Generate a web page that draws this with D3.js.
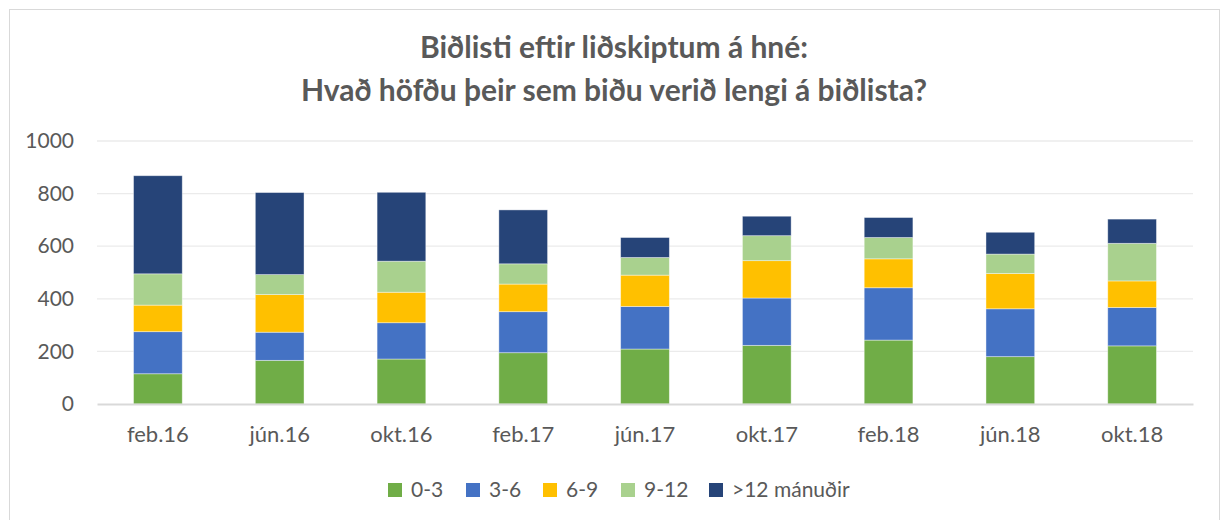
<!DOCTYPE html>
<html>
<head>
<meta charset="utf-8">
<script src="https://cdn.jsdelivr.net/npm/d3@7"></script>
<style>
  body { margin: 0; background: #fff; }
  text { font-family: Lato, "Open Sans", sans-serif; fill: #595959; }
</style>
</head>
<body>
<svg id="chart" width="1222" height="520"></svg>
<script>
// categories and series
var periods = ["feb.16", "jún.16", "okt.16", "feb.17", "jún.17", "okt.17", "feb.18", "jún.18", "okt.18"];
var seriesNames = ["0-3", "3-6", "6-9", "9-12", ">12 mánuðir"];
var m0_3   = [115, 166, 171, 195, 209, 223, 243, 180, 221];
var m3_6   = [160, 107, 138, 156, 162, 180, 199, 182, 146];
var m6_9   = [101, 143, 116, 105, 119, 142, 110, 134, 101];
var m9_12  = [119,  76, 118,  77,  67,  95,  81,  74, 143];
var m12    = [373, 312, 262, 205,  76,  74,  76,  83,  92];
var yTicks = [0, 200, 400, 600, 800, 1000];
var colors = ["#70AD47", "#4472C4", "#FFC000", "#A9D18E", "#264478"];

var svg = d3.select("#chart");

// outer chart frame
svg.append("rect")
  .attr("x", 9.5).attr("y", 9.5)
  .attr("width", 1210).attr("height", 520)
  .attr("fill", "none")
  .attr("stroke", "#d9d9d9");

// title
var title = svg.append("text")
  .attr("text-anchor", "middle")
  .style("font-size", "30px")
  .style("font-weight", "bold");
title.append("tspan").attr("x", 614).attr("y", 58).text("Biðlisti eftir liðskiptum á hné:");
title.append("tspan").attr("x", 614).attr("y", 101).text("Hvað höfðu þeir sem biðu verið lengi á biðlista?");

var plotLeft = 97, plotRight = 1193, plotTop = 141, plotBottom = 404;

var rows = periods.map(function(p, i) {
  return { period: p, s0: m0_3[i], s1: m3_6[i], s2: m6_9[i], s3: m9_12[i], s4: m12[i] };
});
var keys = ["s0", "s1", "s2", "s3", "s4"];
var stacked = d3.stack().keys(keys)(rows);

var x = d3.scaleBand()
  .domain(periods)
  .range([plotLeft, plotRight])
  .paddingInner(0.6)
  .paddingOuter(0.3);

var y = d3.scaleLinear()
  .domain([0, 1000])
  .range([plotBottom, plotTop]);

// gridlines
svg.append("g")
  .selectAll("line")
  .data(yTicks.filter(function(t) { return t > 0; }))
  .enter().append("line")
  .attr("x1", plotLeft).attr("x2", plotRight)
  .attr("y1", function(d) { return y(d); })
  .attr("y2", function(d) { return y(d); })
  .attr("stroke", "#ebebeb")
  .attr("stroke-width", 1.3);

// y axis labels
var yAxis = svg.append("g")
  .attr("transform", "translate(" + plotLeft + ",0)")
  .call(d3.axisLeft(y).tickValues(yTicks).tickFormat(d3.format("d")).tickSize(0).tickPadding(23));
yAxis.select(".domain").remove();
yAxis.selectAll("text")
  .style("font-size", "21px")
  .style("font-family", "Lato, sans-serif")
  .attr("fill", "#595959");

// bars
svg.append("g")
  .selectAll("g")
  .data(stacked)
  .enter().append("g")
  .attr("fill", function(d, i) { return colors[i]; })
  .selectAll("rect")
  .data(function(d) { return d; })
  .enter().append("rect")
  .attr("x", function(d) { return x(d.data.period); })
  .attr("y", function(d) { return y(d[1]); })
  .attr("width", x.bandwidth())
  .attr("height", function(d) { return y(d[0]) - y(d[1]); })
  .attr("stroke", "#ffffff")
  .attr("stroke-opacity", 0.5)
  .attr("stroke-width", 0.8);

// x axis
var xAxis = svg.append("g")
  .attr("transform", "translate(0," + plotBottom + ")")
  .call(d3.axisBottom(x).tickSize(0).tickPadding(22));
xAxis.select(".domain")
  .attr("stroke", "#d9d9d9")
  .attr("stroke-width", 2);
xAxis.selectAll("text")
  .style("font-size", "22px")
  .style("font-family", "Lato, sans-serif")
  .attr("fill", "#595959");

// legend
var legendX = [388, 466, 543, 621, 709];
var legend = svg.append("g")
  .selectAll("g")
  .data(seriesNames)
  .enter().append("g")
  .attr("transform", function(d, i) { return "translate(" + legendX[i] + ",490)"; });
legend.append("rect")
  .attr("x", 0).attr("y", -7)
  .attr("width", 14).attr("height", 14)
  .attr("fill", function(d, i) { return colors[i]; });
legend.append("text")
  .attr("x", 23).attr("y", 0)
  .attr("dy", "0.35em")
  .style("font-size", "21px")
  .text(function(d) { return d; });
</script>
</body>
</html>
